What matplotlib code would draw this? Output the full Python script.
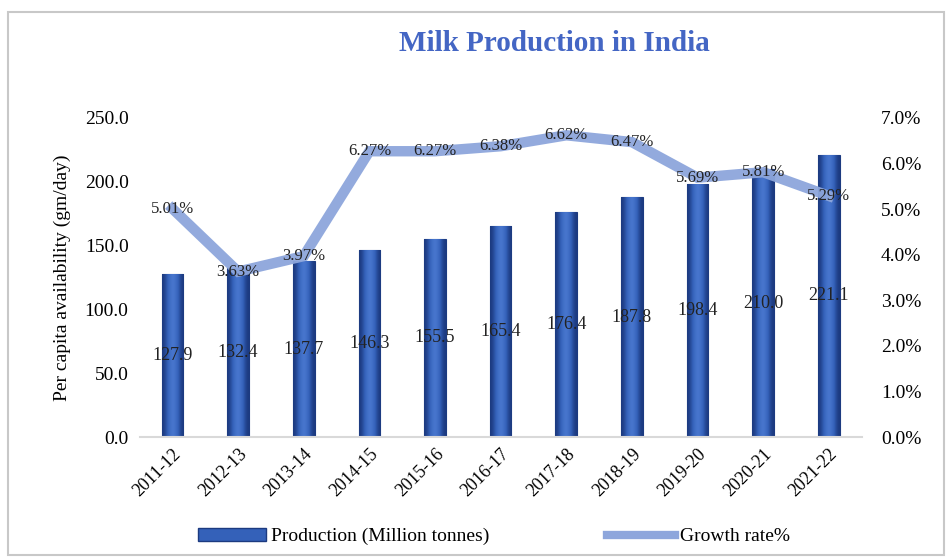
import numpy as np
import matplotlib.pyplot as plt
from matplotlib.patches import Rectangle
from matplotlib.lines import Line2D
from matplotlib.ticker import FuncFormatter
from matplotlib.colors import LinearSegmentedColormap

years = ["2011-12", "2012-13", "2013-14", "2014-15", "2015-16", "2016-17",
         "2017-18", "2018-19", "2019-20", "2020-21", "2021-22"]
production = [127.9, 132.4, 137.7, 146.3, 155.5, 165.4, 176.4, 187.8, 198.4, 210.0, 221.1]
growth = [5.01, 3.63, 3.97, 6.27, 6.27, 6.38, 6.62, 6.47, 5.69, 5.81, 5.29]

plt.rcParams['font.family'] = ['Liberation Serif', 'DejaVu Serif']

bar_dark = '#1c3a80'
bar_mid = '#3461b9'
line_col = '#8da6dc'

fig = plt.figure(figsize=(9.5, 5.59), dpi=100)
ax = fig.add_axes([0.147, 0.218, 0.760, 0.571])
ax2 = ax.twinx()

x = np.arange(len(years))
bars = ax.bar(x, production, width=0.33, color=bar_mid, edgecolor=bar_dark,
              linewidth=0.8, zorder=2)

# cylinder-like shading inside each bar
shade = np.array([0.0, 0.35, 0.75, 1.0, 0.75, 0.35, 0.0]).reshape(1, -1)
cmap = LinearSegmentedColormap.from_list('barshade', [bar_dark, bar_mid, '#4a79d0'])
for b in bars:
    x0, w, h = b.get_x(), b.get_width(), b.get_height()
    im = ax.imshow(shade, cmap=cmap, aspect='auto', extent=(x0, x0 + w, 0, h),
                   interpolation='bicubic', zorder=2)
    im.set_clip_path(b)

for xi, v in zip(x, production):
    ax.text(xi, v / 2, f"{v:.1f}", ha='center', va='center', fontsize=13,
            color='#222222', zorder=5)

ax.set_xlim(-0.5, len(years) - 0.5)
ax.set_ylim(0, 250)
ax.set_yticks(np.arange(0, 251, 50))
ax.yaxis.set_major_formatter(FuncFormatter(lambda v, p: f"{v:.1f}"))
ax.set_xticks(x)
ax.set_xticklabels(years, rotation=45, ha='right', rotation_mode='anchor')
ax.tick_params(axis='both', length=0, labelsize=14, pad=8)
ax.tick_params(axis='x', labelsize=13, pad=6)
ax.set_ylabel("Per capita availability (gm/day)", fontsize=14, labelpad=10)

g = np.array(growth)
ax2.plot(x, g, color=line_col, linewidth=7.5, solid_joinstyle='miter', alpha=0.95, zorder=3)
for xi, v in zip(x, g):
    ax2.text(xi, v, f"{v:.2f}%", ha='center', va='center', fontsize=12,
             color='#222222', zorder=6)
ax2.set_ylim(0, 7)
ax2.set_yticks(np.arange(0, 7.1, 1))
ax2.yaxis.set_major_formatter(FuncFormatter(lambda v, p: f"{v:.1f}%"))
ax2.tick_params(axis='y', length=0, labelsize=14, pad=14)

ax2.set_zorder(ax.get_zorder() + 1)
ax2.patch.set_visible(False)

for a in (ax, ax2):
    for s in a.spines.values():
        s.set_visible(False)
ax.spines['bottom'].set_visible(True)
ax.spines['bottom'].set_color('#d9d9d9')
ax.spines['bottom'].set_linewidth(1.5)

fig.text(0.584, 0.922, "Milk Production in India", ha='center', va='center',
         fontsize=21, fontweight='bold', color='#4466c4')

handles = [Rectangle((0, 0), 1, 1, facecolor=bar_mid, edgecolor=bar_dark),
           Line2D([0], [0], color=line_col, linewidth=6)]
fig.legend(handles, ["Production (Million tonnes)", "Growth rate%"],
           loc='center', bbox_to_anchor=(0.52, 0.04), ncol=2, frameon=False,
           fontsize=14, handlelength=3.5, handleheight=0.6, columnspacing=6,
           handletextpad=0.3)

fig.add_artist(Rectangle((0.008, 0.007), 0.986, 0.972, transform=fig.transFigure,
                         fill=False, edgecolor='#c8c8c8', linewidth=1.5))

fig.savefig("out.png", dpi=100)
